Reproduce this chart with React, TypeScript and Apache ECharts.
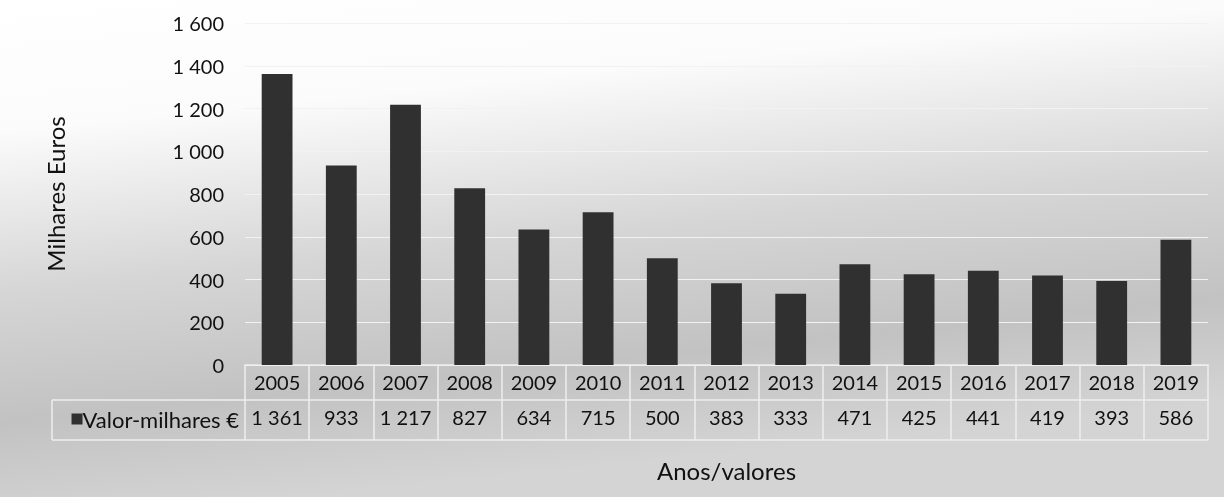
import React, { useEffect, useRef } from "react";
import * as echarts from "echarts";

const years = ["2005", "2006", "2007", "2008", "2009", "2010", "2011", "2012", "2013", "2014", "2015", "2016", "2017", "2018", "2019"];
const values = [1361, 933, 1217, 827, 634, 715, 500, 383, 333, 471, 425, 441, 419, 393, 586];
const seriesName = "Valor-milhares €";
const yTitle = "Milhares Euros";
const xTitle = "Anos/valores";

const fmt = (n: number) => {
  const s = String(Math.round(n));
  return s.length > 3 ? s.slice(0, s.length - 3) + " " + s.slice(-3) : s;
};

const FONT = "Lato";
const TXT = "#111";
const BAR = "#303030";

export default function App() {
  const ref = useRef<HTMLDivElement>(null);
  useEffect(() => {
    const chart = echarts.init(ref.current!, undefined, { renderer: "svg" });
    const gridLeft = 245;
    const gridRight = 16;
    const gridTop = 23;
    const gridBottom = 132;
    const zeroY = 497 - gridBottom;
    const lineColor = "#eeeeee";
    chart.setOption({
      animation: false,
      textStyle: { fontFamily: FONT },
      graphic: [
        {
          type: "rect",
          z: -10,
          silent: true,
          shape: { x: 0, y: 0, width: 1224, height: 497 },
          style: {
            fill: new echarts.graphic.LinearGradient(0, 0, 0.25, 1, [
              { offset: 0, color: "#ffffff" },
              { offset: 0.25, color: "#fbfbfb" },
              { offset: 0.55, color: "#d6d6d6" },
              { offset: 0.8, color: "#c2c2c2" },
              { offset: 1, color: "#d4d4d4" },
            ]),
          },
        },
        {
          type: "line",
          silent: true,
          shape: { x1: 52, y1: zeroY + 35, x2: gridLeft, y2: zeroY + 35 },
          style: { stroke: lineColor, lineWidth: 1.5 },
        },
        {
          type: "line",
          silent: true,
          shape: { x1: 52, y1: zeroY + 75, x2: 1224 - gridRight, y2: zeroY + 75 },
          style: { stroke: lineColor, lineWidth: 1.5 },
        },
        {
          type: "line",
          silent: true,
          shape: { x1: 52, y1: zeroY + 35, x2: 52, y2: zeroY + 75 },
          style: { stroke: lineColor, lineWidth: 1.5 },
        },
        {
          type: "text",
          silent: true,
          x: 239,
          y: zeroY + 54,
          style: {
            text: "{sq|}" + seriesName,
            align: "right",
            verticalAlign: "middle",
            font: `22px ${FONT}`,
            fill: TXT,
            rich: {
              sq: { width: 11, height: 11, backgroundColor: BAR, padding: 0 },
            },
          },
        },
      ],
      grid: { left: gridLeft, right: gridRight, top: gridTop, bottom: gridBottom },
      xAxis: [
        {
          type: "category",
          data: years,
          position: "bottom",
          axisLine: { show: true, lineStyle: { color: lineColor, width: 1.5 } },
          axisTick: { show: true, length: 75, lineStyle: { color: lineColor, width: 1.5 } },
          axisLabel: { color: TXT, fontSize: 20, fontFamily: FONT, margin: 7, interval: 0 },
          name: xTitle,
          nameLocation: "middle",
          nameGap: 93,
          nameTextStyle: { color: TXT, fontSize: 24, fontFamily: FONT },
        },
        {
          type: "category",
          data: values.map(fmt),
          position: "bottom",
          offset: 35,
          axisLine: { show: true, lineStyle: { color: lineColor, width: 1.5 } },
          axisTick: { show: false },
          axisLabel: { color: TXT, fontSize: 20, fontFamily: FONT, margin: 7, interval: 0, hideOverlap: false },
        },
      ],
      yAxis: {
        type: "value",
        min: 0,
        max: 1600,
        interval: 200,
        axisLine: { show: false },
        axisTick: { show: false },
        splitLine: { show: true, lineStyle: { color: "#f2f2f2", width: 1 } },
        axisLabel: { color: TXT, fontSize: 20, fontFamily: FONT, margin: 21, formatter: (v: number) => fmt(v) },
        name: yTitle,
        nameLocation: "middle",
        nameRotate: 90,
        nameGap: 178,
        nameTextStyle: { color: TXT, fontSize: 24, fontFamily: FONT },
      },
      series: [
        {
          type: "bar",
          name: seriesName,
          data: values,
          xAxisIndex: 0,
          barWidth: "48%",
          itemStyle: { color: BAR },
        },
      ],
    });
    return () => chart.dispose();
  }, []);
  return (
    <div
      ref={ref}
      style={{ position: "fixed", left: 0, top: 0, width: 1224, height: 497 }}
    />
  );
}
